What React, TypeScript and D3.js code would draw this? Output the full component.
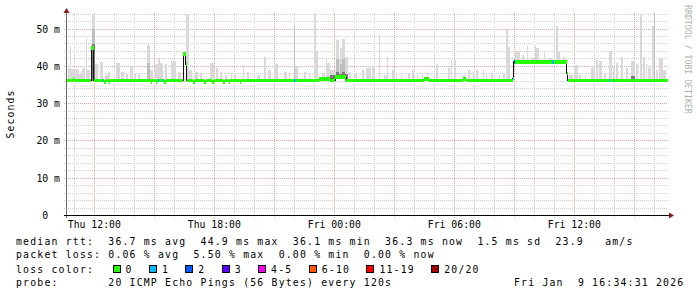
import React from 'react';
import * as d3 from 'd3';

// Time is expressed in hours since Thu Jan 8 2026 00:00
const windowStart = 10.635; // Thu 10:38
const windowEnd = 40.685; // Fri 16:41
const sampleStep = 0.075; // duration of one consolidated sample (h)

const yTicks = [0, 10, 20, 30, 40, 50];
const yMax = 54.3;
const xTickHours = [12, 18, 24, 30, 36];
const xTickLabels = ['Thu 12:00', 'Thu 18:00', 'Fri 00:00', 'Fri 06:00', 'Fri 12:00'];

// median RTT (ms) as change points: [hour, value]
const medianSteps: [number, number][] = [
  [10.635, 36.2], [10.91, 36.6], [10.985, 36.2], [11.835, 44.9], [11.96, 36.2],
  [12.5, 35.8], [12.585, 36.2], [12.735, 35.8], [12.785, 36.2], [14.835, 35.8],
  [14.885, 36.2], [15.085, 35.8], [15.135, 36.2], [15.485, 35.8], [15.56, 36.2],
  [16.45, 43.3], [16.57, 40.6], [16.62, 36.2], [16.92, 35.8], [17.01, 36.2],
  [17.485, 35.8], [17.56, 36.2], [17.885, 35.8], [17.96, 36.2], [18.435, 35.8],
  [18.51, 36.2], [18.71, 35.8], [18.76, 36.2], [19.26, 35.8], [19.335, 36.2],
  [23.235, 36.6], [23.785, 36.2], [24.035, 37.1], [24.585, 36.2], [28.485, 36.6],
  [28.735, 36.2], [30.435, 36.6], [30.585, 36.2], [32.92, 36.7], [32.97, 41.2],
  [35.62, 38.1], [35.67, 36.2],
];

// samples with packet loss: [hour, lost pings]
const lossEvents: [number, number][] = [
  [12.42, 1], [15.17, 1], [15.42, 1], [22.0, 1], [32.92, 1], [32.97, 2],
  [34.885, 1], [37.72, 1], [37.92, 1],
];

// smoke: [start hour, end hour, max ms, mid-shade ms, dark-shade ms]
const smoke: [number, number, number, number, number][] = [
  [10.66, 10.785, 39.5, 0, 0], [10.76, 10.835, 45.5, 0, 0], [10.835, 11.235, 39.3, 0, 0],
  [11.235, 11.385, 38.0, 0, 0], [11.385, 11.535, 39.5, 0, 0], [11.56, 11.635, 47.5, 0, 0],
  [11.635, 11.785, 39, 0, 0], [11.86, 12.01, 53.8, 50, 46], [12.035, 12.185, 40.7, 0, 0],
  [12.285, 12.435, 41.2, 0, 0], [12.535, 12.685, 37.8, 0, 0], [12.685, 12.785, 38.5, 0, 0],
  [13.085, 13.285, 40.8, 0, 0], [13.335, 13.485, 38.5, 0, 0], [13.585, 13.685, 38, 0, 0],
  [13.785, 13.935, 39.8, 0, 0], [13.985, 14.085, 38.3, 0, 0], [14.185, 14.285, 38, 0, 0],
  [14.635, 14.76, 45.6, 41, 0], [14.785, 14.935, 39, 0, 0], [15.035, 15.185, 40.5, 0, 0],
  [15.185, 15.285, 42.3, 0, 0], [15.285, 15.435, 41, 0, 0], [15.535, 15.635, 40.5, 0, 0],
  [15.835, 16.085, 41.5, 0, 0], [16.185, 16.335, 38.5, 0, 0], [16.585, 16.735, 54.0, 0, 0],
  [16.735, 16.885, 39, 0, 0], [17.035, 17.185, 38.5, 0, 0], [17.285, 17.385, 38.2, 0, 0],
  [17.785, 17.985, 40.8, 0, 0], [18.085, 18.185, 39.5, 0, 0], [18.285, 18.385, 38.6, 0, 0],
  [18.535, 18.635, 37.8, 0, 0], [18.835, 18.885, 38.1, 0, 0], [18.985, 19.085, 37.8, 0, 0],
  [19.435, 19.485, 40.4, 0, 0], [19.635, 19.735, 38.6, 0, 0], [20.135, 20.285, 37.8, 0, 0],
  [20.485, 20.585, 42.4, 0, 0], [20.685, 20.835, 39, 0, 0], [20.985, 21.185, 40.6, 0, 0],
  [21.485, 21.635, 38.6, 0, 0], [21.735, 21.785, 38.1, 0, 0], [21.985, 22.035, 50.7, 50.7, 0],
  [22.035, 22.185, 40, 0, 0], [22.485, 22.585, 38.6, 0, 0], [22.735, 22.785, 38.1, 0, 0],
  [22.985, 23.085, 53.9, 0, 0], [23.085, 23.185, 44, 0, 0], [23.385, 23.535, 38.3, 0, 0],
  [23.56, 23.635, 42.2, 0, 0], [23.635, 23.76, 40.8, 0, 0], [23.785, 24.085, 39, 0, 37.6],
  [24.085, 24.235, 47.1, 42, 38.5], [24.235, 24.285, 42, 0, 38], [24.285, 24.385, 44.9, 40.5, 38],
  [24.385, 24.51, 47.3, 42, 38.5], [24.535, 24.685, 42.6, 0, 38], [24.735, 24.835, 38.6, 0, 0],
  [25.035, 25.135, 38, 0, 0], [25.385, 25.485, 39, 0, 0], [25.585, 25.835, 39.5, 0, 0],
  [25.885, 26.01, 40, 0, 0], [26.21, 26.285, 48.4, 0, 0], [26.485, 26.635, 37.7, 0, 0],
  [26.635, 26.685, 42.4, 0, 0], [26.885, 27.01, 39, 0, 0], [27.085, 27.135, 38, 0, 0],
  [27.335, 27.385, 37.8, 0, 0], [27.66, 27.76, 38.3, 0, 0], [27.86, 27.96, 39, 0, 0],
  [28.135, 28.185, 37.8, 0, 0], [28.385, 28.435, 38.1, 0, 0], [28.635, 28.685, 38.1, 0, 0],
  [29.085, 29.185, 40.6, 0, 0], [29.66, 29.76, 39.5, 0, 0], [29.835, 29.885, 41.3, 0, 0],
  [29.985, 30.085, 41.7, 0, 0], [30.435, 30.585, 37.8, 0, 0], [30.66, 30.76, 39, 0, 0],
  [30.935, 30.985, 38.6, 0, 0], [31.085, 31.185, 39, 0, 0], [31.41, 31.46, 39, 0, 0],
  [31.585, 31.635, 38.3, 0, 0], [31.835, 31.935, 38.3, 0, 0], [32.235, 32.285, 37.8, 0, 0],
  [32.435, 32.51, 38.3, 0, 0], [32.585, 32.685, 49.8, 0, 0], [32.685, 32.76, 45.3, 0, 0],
  [33.035, 33.26, 44, 0, 0], [33.385, 33.46, 43, 0, 0], [33.635, 33.685, 45.7, 0, 0],
  [33.835, 34.01, 42.2, 0, 0], [34.01, 34.085, 45.7, 0, 0], [34.085, 34.235, 45, 0, 0],
  [34.485, 34.535, 44, 0, 0], [34.735, 34.935, 42.2, 0, 0], [34.985, 35.035, 48.9, 0, 0],
  [35.085, 35.185, 50.7, 0, 0], [35.185, 35.285, 44, 0, 0], [35.41, 35.51, 42.6, 0, 0],
  [35.735, 35.935, 37.7, 0, 0], [35.985, 36.185, 40.4, 0, 0], [36.235, 36.335, 37.8, 0, 0],
  [36.535, 36.585, 37.8, 0, 0], [36.835, 37.01, 39.5, 0, 0], [37.085, 37.185, 41.7, 0, 0],
  [37.235, 37.385, 41.4, 0, 0], [37.485, 37.585, 38.3, 0, 0], [37.735, 37.885, 44, 0, 0],
  [37.935, 38.035, 39.8, 0, 0], [38.085, 38.185, 40.8, 0, 0], [38.335, 38.435, 42.6, 0, 0],
  [38.585, 38.685, 39.5, 0, 0], [38.835, 39.01, 41.3, 0, 37.5], [39.085, 39.185, 40.5, 0, 0],
  [39.285, 39.385, 53.8, 0, 0], [39.41, 39.51, 42.6, 0, 0], [39.585, 39.635, 40.5, 0, 0],
  [39.66, 39.835, 39.5, 0, 0], [39.885, 39.985, 50.7, 0, 0], [39.96, 40.035, 54.2, 54.2, 0],
  [40.085, 40.185, 39, 0, 0], [40.235, 40.435, 42.2, 0, 0], [40.435, 40.585, 39, 0, 0],
];

const lossLegend = ['0', '1', '2', '3', '4-5', '6-10', '11-19', '20/20'];
const lossColors = ['#26ff00', '#00b8ff', '#0059ff', '#5e00ff', '#ff00ea', '#ff5500', '#ff0000', '#a10000'];

const rttStats = ['36.7 ms avg', '44.9 ms max', '36.1 ms min', '36.3 ms now', '1.5 ms sd', '23.9   am/s'];
const lossStats = ['0.06 % avg', '5.50 % max', '0.00 % min', '0.00 % now'];
const probeText = '20 ICMP Echo Pings (56 Bytes) every 120s';
const stampText = 'Fri Jan  9 16:34:31 2026';

const FONT = "'DejaVu Sans Mono', monospace";

function lossIndex(n: number) {
  if (n <= 0) return 0;
  if (n <= 3) return n;
  if (n <= 5) return 4;
  if (n <= 10) return 5;
  if (n <= 19) return 6;
  return 7;
}

function medianAt(t: number) {
  let v = medianSteps[0][1];
  for (const [s, m] of medianSteps) {
    if (s <= t + 1e-9) v = m;
    else break;
  }
  return v;
}

function medianMin(a: number, b: number) {
  let v = medianAt(a);
  for (const [s, m] of medianSteps) if (s > a && s < b) v = Math.min(v, m);
  return v;
}

export default function App() {
  const left = 67, right = 668, bottom = 215.5, top = 13;
  const x = d3.scaleLinear().domain([windowStart, windowEnd]).range([left, right]);
  const y = d3.scaleLinear().domain([0, yMax]).range([bottom, top]);
  const crisp = (v: number) => Math.floor(v) + 0.5;

  const hGrid = d3.range(0, yMax, 2);
  const vGrid = d3.range(Math.ceil(windowStart), windowEnd, 1);

  const medianLine = d3.line<[number, number]>()
    .x((d) => x(d[0]))
    .y((d) => y(d[1]))
    .curve(d3.curveStepAfter)([...medianSteps, [windowEnd, medianSteps[medianSteps.length - 1][1]]]);

  const legendStart = 16;
  const cw = 7.1;
  const rttRow = 'median rtt:  ' + rttStats.join('  ');
  const lossRow = 'packet loss: ' + lossStats.join('  ');

  let bx = 112.5;
  const boxes = lossLegend.map((lbl, i) => {
    const cur = bx;
    bx += 29.3 + lbl.length * cw;
    return { lbl, color: lossColors[i], x: cur };
  });

  return (
    <svg width={697} height={297} style={{ position: 'absolute', left: 0, top: 0, display: 'block' }}
      fontFamily={FONT}>
      <rect x={0} y={0} width={697} height={297} fill="#ffffff" />

      {/* grid */}
      <g strokeDasharray="1,1" strokeWidth={1} shapeRendering="crispEdges">
        {hGrid.filter((v) => v > 0).map((v) => (
          <line key={'h' + v} x1={64} x2={right} y1={crisp(y(v))} y2={crisp(y(v))}
            stroke={v % 10 === 0 ? '#e9a3a3' : '#cfcfcf'} />
        ))}
        {vGrid.map((h) => (
          <line key={'v' + h} x1={crisp(x(h))} x2={crisp(x(h))} y1={top} y2={218}
            stroke={h % 3 === 0 ? '#e9a3a3' : '#cfcfcf'} />
        ))}
      </g>

      {/* smoke */}
      <g shapeRendering="crispEdges">
        {smoke.map(([s, e, mx, mid, core], i) => {
          const base = y(medianMin(s, e));
          const x0 = x(s);
          const w = Math.max(1, x(e) - x0);
          return (
            <g key={'s' + i}>
              <rect x={x0} y={y(mx)} width={w} height={Math.max(0, base - y(mx))} fill="#d9d9d9" />
              {mid > 0 && <rect x={x0} y={y(mid)} width={w} height={Math.max(0, base - y(mid))} fill="#bebebe" />}
              {core > 0 && <rect x={x0} y={y(core)} width={w} height={Math.max(0, base - y(core))} fill="#7a7a7a" />}
            </g>
          );
        })}
      </g>

      {/* median line */}
      <path d={medianLine || ''} fill="none" stroke="#111" strokeWidth={1} shapeRendering="crispEdges" />

      {/* loss-coloured median band */}
      <g shapeRendering="crispEdges">
        {medianSteps.map(([s, v], i) => {
          const e = i + 1 < medianSteps.length ? medianSteps[i + 1][0] : windowEnd;
          return (
            <rect key={'m' + i} x={x(s)} width={Math.max(1, x(e) - x(s))} y={y(v) - 1.7} height={3.4}
              fill={lossColors[0]} />
          );
        })}
        {lossEvents.map(([t, n], i) => {
          const v = medianAt(t);
          return (
            <rect key={'l' + i} x={x(t)} width={Math.max(1.5, x(t + sampleStep) - x(t))} y={y(v) - 1.7} height={3.4}
              fill={lossColors[lossIndex(n)]} />
          );
        })}
      </g>

      {/* axes */}
      <line x1={left - 0.5} x2={left - 0.5} y1={top - 2} y2={218} stroke="#6a6a6a" strokeWidth={1} shapeRendering="crispEdges" />
      <line x1={64} x2={670} y1={crisp(bottom)} y2={crisp(bottom)} stroke="#000" strokeWidth={1} shapeRendering="crispEdges" />
      <path d={`M${left - 3.5},${top} L${left + 2.5},${top} L${left - 0.5},${top - 5} Z`} fill="#8a1c1c" />
      <path d={`M${669},${crisp(bottom) - 3} L${669},${crisp(bottom) + 3} L${674},${crisp(bottom)} Z`} fill="#8a1c1c" />

      {/* y tick labels */}
      <g fontSize={9.8} fill="#000" textAnchor="end">
        {yTicks.map((v) => (
          <text key={'yt' + v} x={v === 0 ? 60 - 2 * 5.9 : 60} y={y(v) + 3.5}>
            {v === 0 ? '0' : `${v} m`}
          </text>
        ))}
      </g>

      {/* x tick labels */}
      <g fontSize={9.8} fill="#000" textAnchor="middle">
        {xTickHours.map((h, i) => (
          <text key={'xt' + h} x={x(h)} y={228}>{xTickLabels[i]}</text>
        ))}
      </g>

      {/* axis title */}
      <text transform="translate(14,114) rotate(-90)" textAnchor="middle" fontSize={9.8} letterSpacing={1.1} fill="#000">
        Seconds
      </text>

      {/* watermark */}
      <text transform="translate(685,5) rotate(90)" fontSize={8.3} fill="#b0b0b0" letterSpacing={-0.05}>
        RRDTOOL / TOBI OETIKER
      </text>

      {/* legend */}
      <g fontSize={9.8} letterSpacing={1.2} fill="#000" style={{ whiteSpace: 'pre' }}>
        <text x={legendStart} y={245} xmlSpace="preserve">{rttRow}</text>
        <text x={legendStart} y={257.5} xmlSpace="preserve">{lossRow}</text>
        <text x={legendStart} y={272.5} xmlSpace="preserve">loss color:</text>
        {boxes.map((b) => (
          <g key={'b' + b.lbl}>
            <rect x={Math.round(b.x) + 0.5} y={265.5} width={7} height={7} fill={b.color} stroke="#000" strokeWidth={1} />
            <text x={b.x + 13} y={272.5}>{b.lbl}</text>
          </g>
        ))}
        <text x={legendStart} y={286} xmlSpace="preserve">{'probe:       ' + probeText}</text>
        <text x={514} y={286} xmlSpace="preserve">{stampText}</text>
      </g>
    </svg>
  );
}
